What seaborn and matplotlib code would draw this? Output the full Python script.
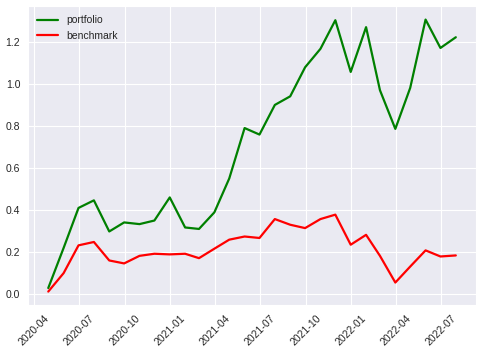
import matplotlib
matplotlib.use("Agg")
import matplotlib.pyplot as plt
import seaborn as sns
import pandas as pd

dates = pd.date_range("2020-04-30", "2022-07-31", freq="ME")
portfolio = [0.029, 0.22, 0.41, 0.446, 0.298, 0.341, 0.333, 0.35, 0.46, 0.317,
             0.31, 0.389, 0.55, 0.79, 0.759, 0.90, 0.941, 1.079, 1.167, 1.303,
             1.057, 1.27, 0.97, 0.786, 0.981, 1.306, 1.171, 1.222]
benchmark = [0.012, 0.10, 0.232, 0.248, 0.16, 0.146, 0.182, 0.192, 0.189, 0.192,
             0.171, 0.216, 0.259, 0.274, 0.267, 0.357, 0.33, 0.314, 0.357, 0.378,
             0.235, 0.282, 0.182, 0.055, 0.131, 0.208, 0.179, 0.184]

sns.set_style("darkgrid")
plt.rcParams["font.family"] = ["Liberation Sans", "DejaVu Sans"]

df = pd.DataFrame({"date": dates, "portfolio": portfolio, "benchmark": benchmark})

fig, ax = plt.subplots(figsize=(4.81, 3.52), dpi=100)
sns.lineplot(data=df, x="date", y="portfolio", color="green", linewidth=1.6, label="portfolio", ax=ax)
sns.lineplot(data=df, x="date", y="benchmark", color="red", linewidth=1.6, label="benchmark", ax=ax)
ax.set_xlabel("")
ax.set_ylabel("")
ax.tick_params(axis="both", labelsize=7.5, pad=2)
plt.setp(ax.get_xticklabels(), rotation=45)
ax.legend(loc="upper left", frameon=False, fontsize=7.5)
fig.subplots_adjust(left=0.058, right=0.99, top=0.983, bottom=0.133)
fig.savefig("out.png", dpi=100)
